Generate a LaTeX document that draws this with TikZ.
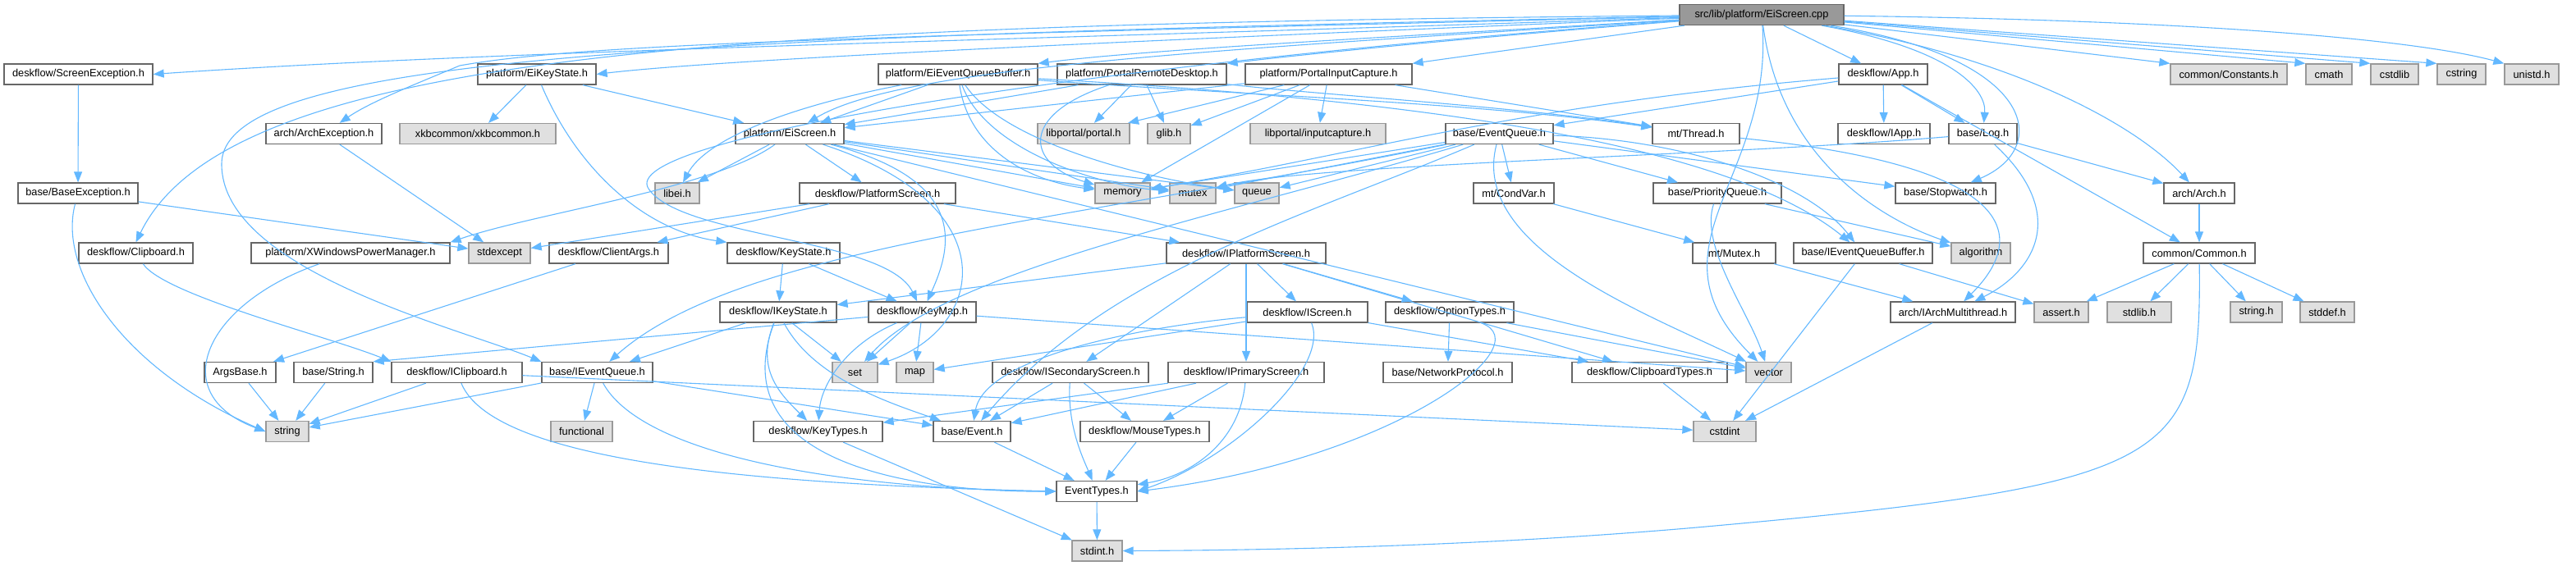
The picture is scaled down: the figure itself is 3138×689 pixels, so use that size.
\documentclass[tikz,border=0pt]{standalone}
\usepackage{fontspec}
\setmainfont{Liberation Sans}
\usetikzlibrary{arrows.meta}
\definecolor{cdark}{HTML}{666666}
\definecolor{cmid}{HTML}{999999}
\definecolor{cgray}{HTML}{E0E0E0}
\definecolor{cedge}{HTML}{63B8FF}
\tikzset{
  nd/.style={draw=cdark, fill=white, line width=1.3pt, minimum height=25pt, inner sep=0pt, font=\fontsize{12.8}{15}\selectfont, text=black},
  gr/.style={nd, draw=cmid, fill=cgray},
  tp/.style={nd, draw=cdark, fill=cmid},
  e/.style={draw=cedge, line width=1.1pt, -{Triangle[length=13pt,width=10pt]}},
}
\newcommand\mynode[6]{\node[#1, minimum width={(#4-#3)*1pt}] (#2) at ({(#3+#4)/2},#5) {#6};}
\begin{document}
\begin{tikzpicture}[x=1pt,y=-1pt]
\useasboundingbox (0,0) rectangle (3138,689);
% row 0
\mynode{tp}{top}{2046}{2246}{18}{src/lib/platform/EiScreen.cpp}
% row 1
\mynode{nd}{scrEx}{5}{186}{90.5}{deskflow/ScreenException.h}
\mynode{nd}{eiKS}{582}{726}{90.5}{platform/EiKeyState.h}
\mynode{nd}{eiEQB}{1070}{1264}{90.5}{platform/EiEventQueueBuffer.h}
\mynode{nd}{prd}{1288}{1494}{90.5}{platform/PortalRemoteDesktop.h}
\mynode{nd}{pic}{1517}{1720}{90.5}{platform/PortalInputCapture.h}
\mynode{nd}{app}{2240}{2348}{90.5}{deskflow/App.h}
\mynode{gr}{const}{2644}{2786}{90.5}{common/Constants.h}
\mynode{gr}{cmath}{2809}{2865}{90.5}{cmath}
\mynode{gr}{cstdlib}{2888}{2946}{90.5}{cstdlib}
\mynode{gr}{cstring}{2969}{3028}{90.5}{cstring}
\mynode{gr}{unistd}{3051}{3117}{90.5}{unistd.h}
% row 2
\mynode{nd}{archEx}{324}{465}{163}{arch/ArchException.h}
\mynode{gr}{xkb}{487}{677}{163}{xkbcommon/xkbcommon.h}
\mynode{nd}{eiScr}{896}{1028}{163}{platform/EiScreen.h}
\mynode{gr}{portal}{1264}{1376}{163}{libportal/portal.h}
\mynode{gr}{glib}{1398}{1450}{163}{glib.h}
\mynode{gr}{inputcap}{1523}{1688}{163}{libportal/inputcapture.h}
\mynode{nd}{evq}{1761}{1892}{163}{base/EventQueue.h}
\mynode{nd}{thread}{2013}{2119}{163}{mt/Thread.h}
\mynode{nd}{iapp}{2239}{2351}{163}{deskflow/IApp.h}
\mynode{nd}{log}{2374}{2457}{163}{base/Log.h}
% row 3
\mynode{nd}{baseEx}{22}{168}{235.5}{base/BaseException.h}
\mynode{gr}{libei}{798}{852}{235.5}{libei.h}
\mynode{nd}{platScr}{974}{1164}{235.5}{deskflow/PlatformScreen.h}
\mynode{gr}{memory}{1334}{1401}{235.5}{memory}
\mynode{gr}{mutex}{1425}{1481}{235.5}{mutex}
\mynode{gr}{queue}{1504}{1558}{235.5}{queue}
\mynode{nd}{condvar}{1795}{1893}{235.5}{mt/CondVar.h}
\mynode{nd}{prioq}{2014}{2170}{235.5}{base/PriorityQueue.h}
\mynode{nd}{stopw}{2309}{2431}{235.5}{base/Stopwatch.h}
\mynode{nd}{arch}{2636}{2722}{235.5}{arch/Arch.h}
% row 4
\mynode{nd}{clip}{96}{235}{308.5}{deskflow/Clipboard.h}
\mynode{nd}{xwpm}{306}{548}{308.5}{platform/XWindowsPowerManager.h}
\mynode{gr}{stdexc}{571}{646}{308.5}{stdexcept}
\mynode{nd}{clargs}{669}{814}{308.5}{deskflow/ClientArgs.h}
\mynode{nd}{keystate}{886}{1023}{308.5}{deskflow/KeyState.h}
\mynode{nd}{iplat}{1421}{1615}{308.5}{deskflow/IPlatformScreen.h}
\mynode{nd}{mutexh}{2062}{2163}{308.5}{mt/Mutex.h}
\mynode{nd}{ieqb}{2185}{2354}{308.5}{base/IEventQueueBuffer.h}
\mynode{gr}{algo}{2377}{2449}{308.5}{algorithm}
\mynode{nd}{common}{2611}{2747}{308.5}{common/Common.h}
% row 5
\mynode{nd}{ikeys}{877}{1019}{380.5}{deskflow/IKeyState.h}
\mynode{nd}{keymap}{1058}{1189}{380.5}{deskflow/KeyMap.h}
\mynode{nd}{iscreen}{1519}{1666}{380.5}{deskflow/IScreen.h}
\mynode{nd}{opttypes}{1688}{1844}{380.5}{deskflow/OptionTypes.h}
\mynode{nd}{iarchmt}{2303}{2455}{380.5}{arch/IArchMultithread.h}
\mynode{gr}{assert}{2478}{2544}{380.5}{assert.h}
\mynode{gr}{stdlibh}{2567}{2645}{380.5}{stdlib.h}
\mynode{gr}{stringh}{2717}{2780}{380.5}{string.h}
\mynode{gr}{stddef}{2802}{2868}{380.5}{stddef.h}
% row 6
\mynode{nd}{argsbase}{249}{336}{454}{ArgsBase.h}
\mynode{nd}{bstring}{358}{454}{454}{base/String.h}
\mynode{nd}{iclip}{477}{636}{454}{deskflow/IClipboard.h}
\mynode{nd}{ieq}{660}{795}{454}{base/IEventQueue.h}
\mynode{gr}{set}{1014}{1069}{454}{set}
\mynode{gr}{map}{1092}{1137}{454}{map}
\mynode{nd}{isec}{1209}{1399}{454}{deskflow/ISecondaryScreen.h}
\mynode{nd}{iprim}{1423}{1613}{454}{deskflow/IPrimaryScreen.h}
\mynode{nd}{netproto}{1685}{1842}{454}{base/NetworkProtocol.h}
\mynode{nd}{cliptypes}{1915}{2104}{454}{deskflow/ClipboardTypes.h}
\mynode{gr}{vector}{2127}{2182}{454}{vector}
% row 7
\mynode{gr}{string}{324}{376}{526}{string}
\mynode{gr}{functional}{671}{746}{526}{functional}
\mynode{nd}{keytypes}{918}{1075}{526}{deskflow/KeyTypes.h}
\mynode{nd}{event}{1137}{1231}{526}{base/Event.h}
\mynode{nd}{mousetypes}{1316}{1473}{526}{deskflow/MouseTypes.h}
\mynode{gr}{cstdint}{2063}{2139}{526}{cstdint}
% rows 8-9
\mynode{nd}{evtypes}{1287}{1385}{599}{EventTypes.h}
\mynode{gr}{stdint}{1306}{1367}{671.5}{stdint.h}

% ---- edges from the top file
\draw[e] (top) .. controls (1200,50) and (600,62) .. (scrEx.east);
\draw[e] (top) .. controls (1500,45) and (900,70) .. (eiKS.east);
\draw[e] (top) .. controls (1700,45) and (1400,60) .. (eiEQB.north east);
\draw[e] (top) .. controls (1800,45) and (1600,65) .. (prd.north east);
\draw[e] (top) -- (pic.north east);
\draw[e] (top) -- (app);
\draw[e] (top) -- (const.north west);
\draw[e] (top) -- (cmath.north west);
\draw[e] (top) -- (cstdlib.north west);
\draw[e] (top) -- (cstring.north west);
\draw[e] (top) .. controls (2700,25) and (2950,50) .. (unistd.north west);
\draw[e] (top) .. controls (1000,45) and (700,55) .. (560,80) .. controls (500,105) and (450,125) .. (archEx);
\draw[e] (top) .. controls (1500,60) and (1100,80) .. (eiScr);
\draw[e] (top) .. controls (2380,60) and (2420,110) .. (log);
\draw[e] (top) .. controls (2480,70) and (2500,180) .. (stopw);
\draw[e] (top) .. controls (2450,70) and (2600,150) .. (arch);
\draw[e] (top) .. controls (2170,200) and (2300,270) .. (algo);
\draw[e] (top) .. controls (2160,220) and (2000,300) .. (vector);
\draw[e] (top) .. controls (900,30) and (280,60) .. (clip.north);
\draw[e] (top) .. controls (800,45) and (270,70) .. (270,200) .. controls (270,330) and (560,400) .. (ieq.north west);
\draw[e] (top) .. controls (1300,80) and (750,170) .. (790,230) .. controls (830,290) and (1080,290) .. (keymap);

% ---- row 1 sources
\draw[e] (scrEx) -- (baseEx);
\draw[e] (eiKS) -- (xkb);
\draw[e] (eiKS) -- (eiScr);
\draw[e] (eiKS) .. controls (700,200) and (780,280) .. (keystate.north west);
\draw[e] (eiEQB) -- (eiScr);
\draw[e] (eiEQB) .. controls (960,130) and (860,170) .. (libei);
\draw[e] (eiEQB) .. controls (1180,180) and (1250,220) .. (memory);
\draw[e] (eiEQB) .. controls (1200,180) and (1330,225) .. (mutex);
\draw[e] (eiEQB) .. controls (1220,170) and (1380,215) .. (queue);
\draw[e] (eiEQB) .. controls (1500,115) and (1800,125) .. (thread);
\draw[e] (eiEQB) .. controls (1700,120) and (2100,170) .. (ieqb);
\draw[e] (prd) -- (eiScr);
\draw[e] (prd) -- (portal);
\draw[e] (prd) -- (glib);
\draw[e] (prd) .. controls (1240,140) and (1250,200) .. (memory);
\draw[e] (prd) .. controls (1600,115) and (1850,130) .. (thread);
\draw[e] (pic) -- (eiScr);
\draw[e] (pic) -- (inputcap);
\draw[e] (pic) -- (portal);
\draw[e] (pic) -- (glib);
\draw[e] (pic) -- (memory);
\draw[e] (pic) -- (thread);
\draw[e] (app) -- (iapp);
\draw[e] (app) -- (log);
\draw[e] (app) -- (common);
\draw[e] (app) -- (evq);
\draw[e] (app) .. controls (1850,127) and (1650,190) .. (memory);

% ---- row 2 sources
\draw[e] (archEx) -- (stdexc);
\draw[e] (eiScr) -- (libei);
\draw[e] (eiScr) -- (platScr);
\draw[e] (eiScr) -- (memory);
\draw[e] (eiScr) -- (mutex);
\draw[e] (eiScr) -- (queue);
\draw[e] (eiScr) -- (vector);
\draw[e] (eiScr) .. controls (870,230) and (650,260) .. (xwpm.north east);
\draw[e] (eiScr) .. controls (1180,220) and (1160,300) .. (keymap);
\draw[e] (eiScr) .. controls (1230,250) and (1200,400) .. (set);
\draw[e] (evq) -- (condvar);
\draw[e] (evq) -- (prioq);
\draw[e] (evq) -- (stopw);
\draw[e] (evq) .. controls (2050,170) and (2200,220) .. (ieqb);
\draw[e] (evq) .. controls (1300,270) and (900,300) .. (ieq);
\draw[e] (evq) -- (queue);
\draw[e] (evq) -- (memory);
\draw[e] (evq) -- (mutex);
\draw[e] (evq) .. controls (1500,260) and (1150,330) .. (set);
\draw[e] (evq) .. controls (1600,260) and (1350,330) .. (event);
\draw[e] (evq) .. controls (1790,300) and (2000,380) .. (vector);
\draw[e] (thread) .. controls (2440,200) and (2480,280) .. (iarchmt);
\draw[e] (log) -- (arch);
\draw[e] (log) .. controls (2520,260) and (2480,330) .. (iarchmt);
\draw[e] (log) .. controls (2100,190) and (1600,200) .. (mutex);

% ---- row 3 sources
\draw[e] (baseEx) -- (stdexc);
\draw[e] (baseEx) .. controls (70,330) and (150,450) .. (string.west);
\draw[e] (platScr) -- (iplat);
\draw[e] (platScr) -- (stdexc);
\draw[e] (platScr) -- (clargs);
\draw[e] (condvar) -- (mutexh);
\draw[e] (prioq) -- (algo);
\draw[e] (prioq) .. controls (2070,300) and (2130,380) .. (vector);
\draw[e] (arch) -- (common);

% ---- row 4 sources
\draw[e] (clip) .. controls (200,360) and (400,410) .. (iclip.north west);
\draw[e] (xwpm) .. controls (250,370) and (200,480) .. (string.west);
\draw[e] (clargs) -- (argsbase);
\draw[e] (keystate) -- (ikeys);
\draw[e] (keystate) -- (keymap);
\draw[e] (iplat) -- (iscreen);
\draw[e] (iplat) -- (iprim);
\draw[e] (iplat) -- (isec);
\draw[e] (iplat) -- (ikeys);
\draw[e] (iplat) -- (opttypes);
\draw[e] (iplat) -- (cliptypes);
\draw[e] (mutexh) -- (iarchmt);
\draw[e] (ieqb) -- (cstdint);
\draw[e] (ieqb) -- (assert);
\draw[e] (common) -- (assert);
\draw[e] (common) -- (stdlibh);
\draw[e] (common) -- (stringh);
\draw[e] (common) -- (stddef);
\draw[e] (common) .. controls (2682,560) and (2650,590) .. (2100,640) .. controls (1800,668) and (1500,671) .. (stdint.east);

% ---- row 5 sources
\draw[e] (ikeys) -- (ieq);
\draw[e] (ikeys) .. controls (920,450) and (950,480) .. (keytypes);
\draw[e] (ikeys) -- (set);
\draw[e] (ikeys) .. controls (990,460) and (1080,490) .. (event);
\draw[e] (ikeys) .. controls (880,560) and (1100,600) .. (evtypes.west);
\draw[e] (keymap) .. controls (1030,420) and (1000,470) .. (keytypes);
\draw[e] (keymap) -- (set);
\draw[e] (keymap) -- (map);
\draw[e] (keymap) -- (bstring.north east);
\draw[e] (keymap) -- (vector);
\draw[e] (iscreen) -- (map);
\draw[e] (iscreen) .. controls (1420,395) and (1200,430) .. (event);
\draw[e] (iscreen) .. controls (1620,450) and (1500,560) .. (evtypes.east);
\draw[e] (iscreen) -- (cliptypes);
\draw[e] (opttypes) -- (netproto);
\draw[e] (opttypes) -- (vector);
\draw[e] (opttypes) .. controls (1880,420) and (1700,560) .. (evtypes.east);
\draw[e] (iarchmt) -- (cstdint);

% ---- row 6 sources
\draw[e] (argsbase) -- (string);
\draw[e] (bstring) -- (string);
\draw[e] (iclip) -- (string);
\draw[e] (iclip) .. controls (600,560) and (900,590) .. (evtypes.west);
\draw[e] (iclip) -- (cstdint);
\draw[e] (ieq) -- (functional);
\draw[e] (ieq) -- (string);
\draw[e] (ieq) .. controls (780,550) and (1000,595) .. (evtypes.west);
\draw[e] (ieq) -- (event);
\draw[e] (isec) -- (event);
\draw[e] (isec) .. controls (1300,520) and (1320,560) .. (evtypes);
\draw[e] (isec) -- (mousetypes);
\draw[e] (iprim) -- (event);
\draw[e] (iprim) -- (mousetypes);
\draw[e] (iprim) .. controls (1510,540) and (1450,580) .. (evtypes);
\draw[e] (iprim) -- (keytypes);
\draw[e] (cliptypes) -- (cstdint);

% ---- rows 7-8 sources
\draw[e] (keytypes) -- (stdint);
\draw[e] (event) -- (evtypes);
\draw[e] (mousetypes) -- (evtypes);
\draw[e] (evtypes) -- (stdint);
\end{tikzpicture}
\end{document}
